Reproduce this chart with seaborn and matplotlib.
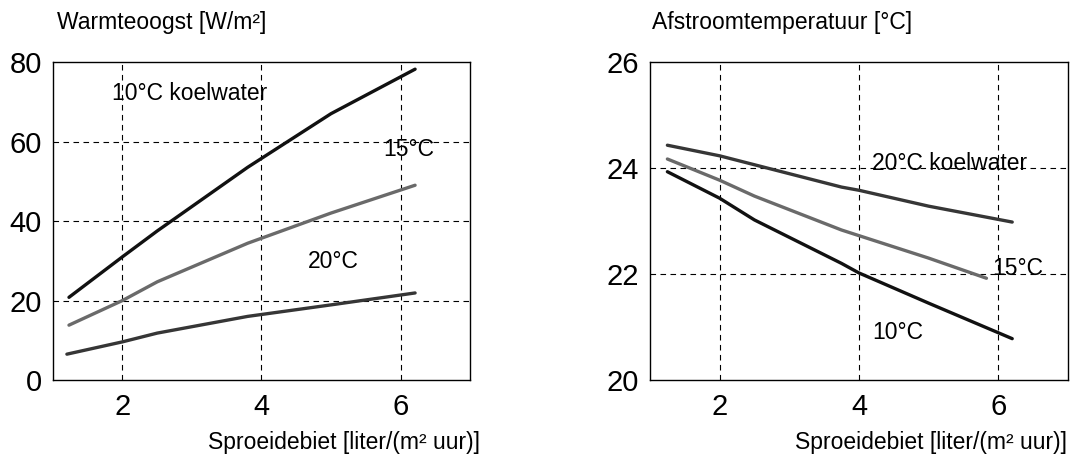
import matplotlib
matplotlib.use('Agg')
import matplotlib.pyplot as plt
import pandas as pd
import seaborn as sns

# Data
x_10 = [1.23, 2.0, 2.5, 3.8, 5.0, 6.21]
heat_10 = [20.8, 31.0, 37.5, 53.5, 67.0, 78.2]
x_15 = [1.23, 2.0, 2.5, 3.8, 5.0, 6.21]
heat_15 = [13.8, 20.0, 24.7, 34.4, 42.0, 49.0]
x_20 = [1.2, 2.0, 2.5, 3.8, 5.0, 6.21]
heat_20 = [6.5, 9.6, 11.8, 16.0, 18.9, 21.9]

tx_10 = [1.25, 2.0, 2.5, 3.75, 4.0, 5.0, 6.2]
temp_10 = [23.93, 23.43, 23.02, 22.2, 22.02, 21.45, 20.78]
tx_15 = [1.25, 2.0, 2.5, 3.75, 5.0, 5.83]
temp_15 = [24.17, 23.77, 23.47, 22.83, 22.3, 21.92]
tx_20 = [1.25, 2.0, 3.75, 4.0, 5.0, 6.2]
temp_20 = [24.43, 24.23, 23.64, 23.58, 23.28, 22.98]

sns.set_style('white')
plt.rcParams['font.family'] = ['Liberation Sans', 'DejaVu Sans']
plt.rcParams['text.color'] = 'black'
plt.rcParams['xtick.color'] = 'black'
plt.rcParams['ytick.color'] = 'black'

colors = {'10': '#111111', '15': '#6a6a6a', '20': '#363636'}


def frame(xs, ys, name):
    return pd.DataFrame({'x': xs, 'y': ys, 'serie': name})


df_heat = pd.concat([frame(x_10, heat_10, '10'), frame(x_15, heat_15, '15'),
                     frame(x_20, heat_20, '20')])
df_temp = pd.concat([frame(tx_10, temp_10, '10'), frame(tx_15, temp_15, '15'),
                     frame(tx_20, temp_20, '20')])

fig = plt.figure(figsize=(10.77, 4.58), dpi=100)
ax1 = fig.add_axes([0.0492, 0.1703, 0.3872, 0.6943])
ax2 = fig.add_axes([0.6035, 0.1703, 0.3881, 0.6943])

for ax, df in [(ax1, df_heat), (ax2, df_temp)]:
    sns.lineplot(data=df, x='x', y='y', hue='serie', palette=colors, linewidth=2.4,
                 sort=False, legend=False, ax=ax, estimator=None)
    ax.set_xlim(1, 7)
    ax.set_xticks([2, 4, 6])
    ax.set_xlabel('')
    ax.set_ylabel('')
    for s in ax.spines.values():
        s.set_color('black')
        s.set_linewidth(1.0)
    ax.tick_params(axis='y', length=0, labelsize=21, pad=8)
    ax.tick_params(axis='x', length=0, labelsize=21, pad=9)
    for xv in [2, 4, 6]:
        ax.axvline(xv, color='black', lw=0.8, ls=(0, (5, 4)), zorder=0)

ax1.set_ylim(0, 80)
ax1.set_yticks([0, 20, 40, 60, 80])
for yv in [20, 40, 60]:
    ax1.axhline(yv, color='black', lw=0.8, ls=(0, (5, 4)), zorder=0)

ax2.set_ylim(20, 26)
ax2.set_yticks([20, 22, 24, 26])
for yv in [22, 24]:
    ax2.axhline(yv, color='black', lw=0.8, ls=(0, (5, 4)), zorder=0)

fs = 16.5
ax1.text(1.85, 72, '10°C koelwater', fontsize=fs, va='center')
ax1.text(5.75, 58, '15°C', fontsize=fs, va='center')
ax1.text(4.67, 29.7, '20°C', fontsize=fs, va='center')

ax2.text(4.19, 24.09, '20°C koelwater', fontsize=fs, va='center')
ax2.text(5.92, 22.11, '15°C', fontsize=fs, va='center')
ax2.text(4.19, 20.89, '10°C', fontsize=fs, va='center')

fig.text(57 / 1077, 1 - 22 / 458, 'Warmteoogst [W/m²]', fontsize=16.5, va='center')
fig.text(652 / 1077, 1 - 22 / 458, 'Afstroomtemperatuur [°C]', fontsize=16.5, va='center')
fig.text(480 / 1077, 1 - 443 / 458, 'Sproeidebiet [liter/(m² uur)]', fontsize=16.5,
         va='center', ha='right')
fig.text(1067 / 1077, 1 - 443 / 458, 'Sproeidebiet [liter/(m² uur)]', fontsize=16.5,
         va='center', ha='right')

fig.savefig('out.png', dpi=100)
